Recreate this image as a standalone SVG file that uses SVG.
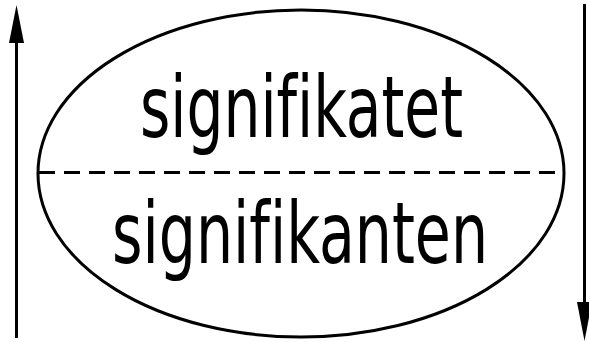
<svg xmlns="http://www.w3.org/2000/svg" width="589" height="342" viewBox="0 0 589 342">
<style>
.ln{stroke:#000;stroke-width:3;fill:none}
.head{fill:#000}
.lbl{font-family:"Liberation Sans Narrow","DejaVu Sans Condensed","Liberation Sans",sans-serif;font-size:86px;fill:#000;font-variant-ligatures:none}
</style>
<g id="connectors">
<line class="ln" x1="16.5" y1="338" x2="16.5" y2="40"/>
<path class="head" d="M16.5 5 L24 43 L9 43 Z"/>
<line class="ln" x1="584.5" y1="4" x2="584.5" y2="305"/>
<path class="head" d="M584.5 341 L577 302 L592 302 Z"/>
</g>
<g id="sign">
<ellipse class="ln" cx="301" cy="173.5" rx="263" ry="163.5"/>
<line x1="39" y1="172.5" x2="563" y2="172.5" stroke="#000" stroke-width="3" stroke-dasharray="16 9"/>
</g>
<g id="signifikatet">
<text class="lbl" x="140" y="137" textLength="323" lengthAdjust="spacingAndGlyphs">signifikatet</text>
</g>
<g id="signifikanten">
<text class="lbl" x="112" y="263" textLength="376" lengthAdjust="spacingAndGlyphs">signifikanten</text>
</g>
</svg>
